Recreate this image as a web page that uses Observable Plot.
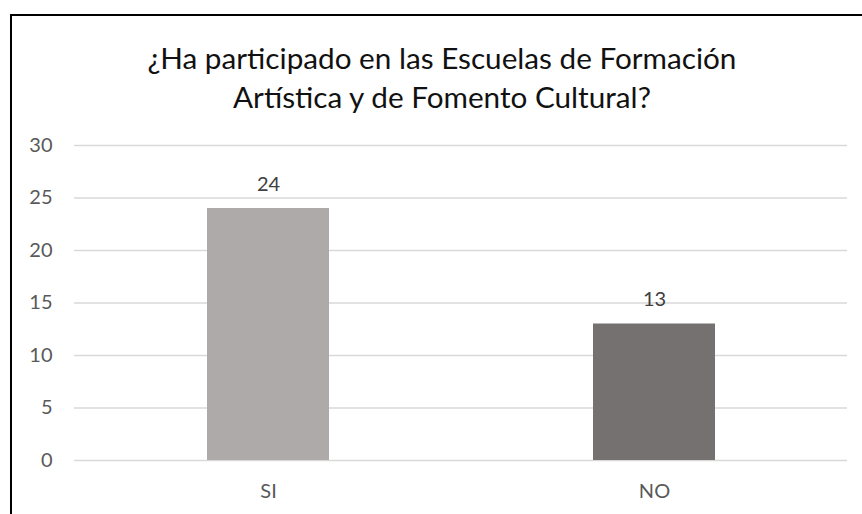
<!DOCTYPE html>
<html>
<head>
<meta charset="utf-8">
<script src="https://cdn.jsdelivr.net/npm/d3@7"></script>
<script src="https://cdn.jsdelivr.net/npm/@observablehq/plot@0.6"></script>
<style>
  html, body { margin: 0; padding: 0; background: #fff; }
  #wrap { position: relative; width: 862px; height: 514px; overflow: hidden; background: #fff; }
  #frame { position: absolute; left: 10px; top: 14px; width: 900px; height: 600px;
           border-left: 2px solid #000; border-top: 2px solid #000; box-sizing: border-box; }
  #title { position: absolute; left: 22px; width: 840px; top: 0; text-align: center;
           font-family: Lato, "Open Sans", sans-serif; color: #111; line-height: 39px; }
  #chart { position: absolute; left: 0; top: 0; }
</style>
</head>
<body>
<div id="wrap">
  <div id="frame"></div>
  <div id="chart"></div>
  <div id="title"><div id="t1"></div><div id="t2"></div></div>
</div>
<script>
const categories = ["SI", "NO"];
const values = [24, 13];
const colors = ["#AEAAAA", "#767171"];
const yTicks = [0, 5, 10, 15, 20, 25, 30];
const titleLines = ["¿Ha participado en las Escuelas de Formación", "Artística y de Fomento Cultural?"];

const data = categories.map((c, i) => ({category: c, value: values[i], color: colors[i]}));

// Fit title font size to reference width
const cv = document.createElement("canvas").getContext("2d");
cv.font = "100px Lato";
const w1 = cv.measureText(titleLines[0]).width;
const fs = Math.round(100 * 589 / w1 * 10) / 10;
const title = document.getElementById("title");
title.style.fontSize = fs + "px";
title.style.top = (68 - 39 / 2 - fs * 0.34) + "px";
document.getElementById("t1").textContent = titleLines[0];
document.getElementById("t2").textContent = titleLines[1];

const chart = Plot.plot({
  width: 862,
  height: 514,
  marginLeft: 74,
  marginRight: 15,
  marginTop: 145,
  marginBottom: 54,
  style: {fontFamily: "Lato, 'Open Sans', sans-serif", fontSize: "20px", color: "#595959", background: "transparent"},
  x: {domain: categories, paddingInner: 0.684, paddingOuter: 0.342, label: null},
  y: {domain: [0, 30], ticks: yTicks, label: null},
  marks: [
    Plot.ruleY(yTicks, {stroke: "#d9d9d9", strokeWidth: 1.5}),
    Plot.barY(data, {x: "category", y: "value", fill: "color"}),
    Plot.text(data, {x: "category", y: "value", text: d => String(d.value), dy: -24, fill: "#404040", fontSize: 20}),
    Plot.axisY({ticks: yTicks, tickSize: 0, tickPadding: 22, label: null, fontSize: 20}),
    Plot.axisX({tickSize: 0, tickPadding: 23, label: null, fontSize: 20})
  ]
});
document.getElementById("chart").appendChild(chart);
</script>
</body>
</html>
